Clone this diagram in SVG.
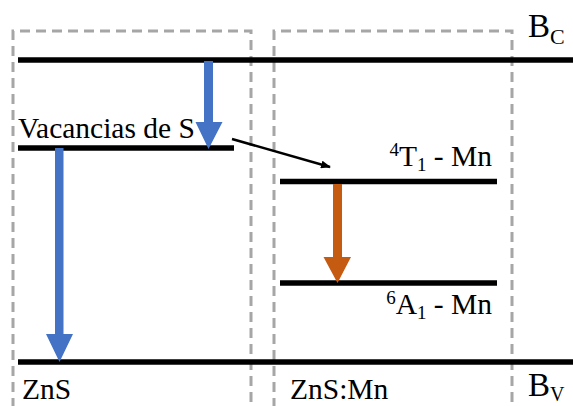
<svg xmlns="http://www.w3.org/2000/svg" width="573" height="406" viewBox="0 0 573 406">
<defs>
<style>
.box{fill:none;stroke:#A6A6A6;stroke-width:3;stroke-dasharray:10,6}
.lvl{stroke:#000;stroke-width:5.5}
.t{font-size:29.5px;fill:#000}
.big{font-size:33px}
</style>
<marker id="ah" markerWidth="10" markerHeight="8" refX="9" refY="4" orient="auto" markerUnits="userSpaceOnUse">
<path d="M0,0 L10,4 L0,8 Z" fill="#000"/>
</marker>
</defs>
<rect width="573" height="406" fill="#fff"/>
<g id="box-zns"><path class="box" d="M13,408 V31 H251 V408"/></g>
<g id="box-znsmn"><path class="box" d="M274,408 V31 H512 V408"/></g>
<g font-family="Liberation Serif, Times New Roman, serif">
<g id="level-bc"><line class="lvl" x1="18" y1="60" x2="573" y2="60"/><text class="t big" x="528" y="37">B<tspan font-size="22" dy="7">C</tspan></text></g>
<g id="level-vacancias"><line class="lvl" x1="18" y1="148" x2="234" y2="148"/><text class="t" x="18" y="138">Vacancias de S</text></g>
<g id="level-4t1"><line class="lvl" x1="280" y1="181.5" x2="497" y2="181.5"/><text class="t" x="492" y="166" text-anchor="end"><tspan font-size="19" dy="-10">4</tspan><tspan dy="10">T</tspan><tspan font-size="19" dy="5">1</tspan><tspan dy="-5"> - Mn</tspan></text></g>
<g id="level-6a1"><line class="lvl" x1="280" y1="283" x2="497" y2="283"/><text class="t" x="492" y="314" text-anchor="end"><tspan font-size="19" dy="-10">6</tspan><tspan dy="10">A</tspan><tspan font-size="19" dy="5">1</tspan><tspan dy="-5"> - Mn</tspan></text></g>
<g id="level-bv"><line class="lvl" x1="18" y1="362" x2="573" y2="362"/><text class="t big" x="528" y="396">B<tspan font-size="20" dy="5">V</tspan></text></g>
<g id="label-zns"><text class="t" x="22" y="399">ZnS</text></g>
<g id="label-znsmn"><text class="t" x="290" y="399">ZnS:Mn</text></g>
</g>
<g id="connectors">
<path d="M204,61 H213 V122 H222.5 L208.5,149 L195.5,122 H204 Z" fill="#4472C4"/>
<path d="M55,148 H63.5 V334 H73 L59.5,362 L46,334 H55 Z" fill="#4472C4"/>
<path d="M333,184 H342 V257 H351 L337.5,283 L323.5,257 H333 Z" fill="#C55A11"/>
<line x1="232" y1="139" x2="330" y2="167" stroke="#000" stroke-width="2.5" marker-end="url(#ah)"/>
</g>
</svg>
